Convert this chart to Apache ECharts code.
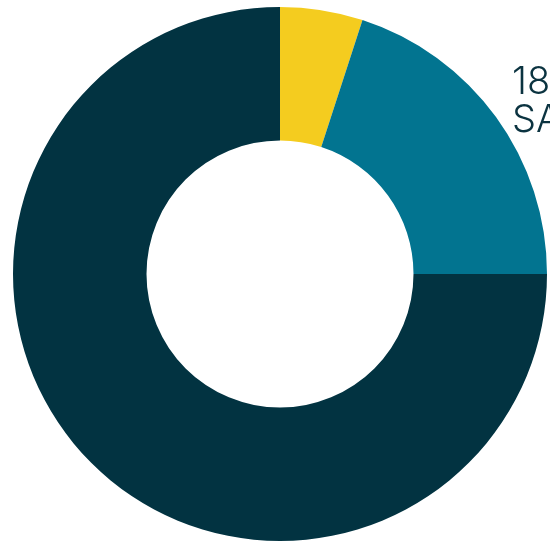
<!DOCTYPE html>
<html>
<head>
<meta charset="utf-8">
<script src="https://cdn.jsdelivr.net/npm/echarts@6/dist/echarts.min.js"></script>
<style>
html,body{margin:0;padding:0;background:#fff;overflow:hidden;}
#chart{width:550px;height:542px;}
</style>
</head>
<body>
<div id="chart"></div>
<script>
const categories = ['Yellow', 'Blue', 'Dark'];
const values = [5, 20, 75];
const colors = ['#F4CC1F', '#027490', '#023341'];
const labelLines = ['18', 'SA'];

const chart = echarts.init(document.getElementById('chart'), null, {renderer: 'canvas'});
chart.setOption({
  animation: false,
  title: {
    text: labelLines.join('\n'),
    left: 512,
    top: 64,
    padding: 0,
    textStyle: {
      color: '#0B3340',
      fontFamily: 'Inter',
      fontWeight: 300,
      fontSize: 38,
      lineHeight: 38
    }
  },
  series: [{
    type: 'pie',
    center: [280, 274],
    radius: [133.5, 267],
    startAngle: 90,
    clockwise: true,
    silent: true,
    label: {show: false},
    labelLine: {show: false},
    data: categories.map((c, i) => ({
      name: c,
      value: values[i],
      itemStyle: {color: colors[i]}
    }))
  }]
});
</script>
</body>
</html>
